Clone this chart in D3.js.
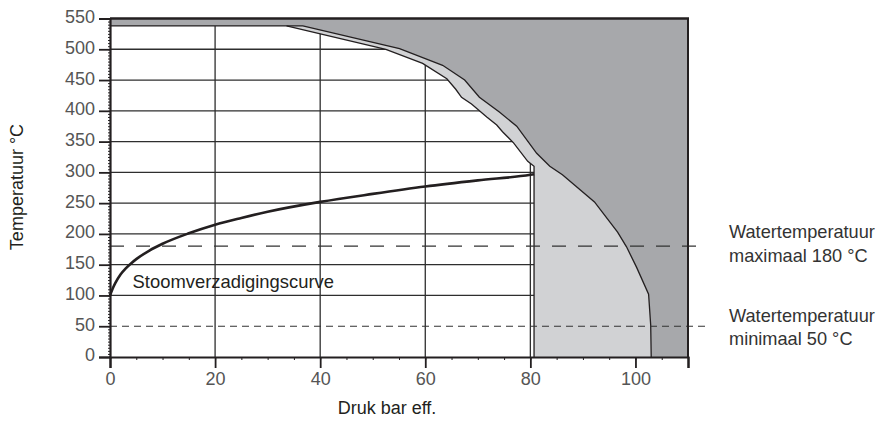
<!DOCTYPE html>
<html>
<head>
<meta charset="utf-8">
<script src="https://cdn.jsdelivr.net/npm/d3@7"></script>
<style>
  html, body { margin: 0; padding: 0; background: #fff; }
  svg text { font-family: "Liberation Sans", Arial, sans-serif; }
</style>
</head>
<body>
<svg id="chart" width="884" height="424"></svg>
<script>
// Axis ticks
const pressureTicks = [0, 20, 40, 60, 80, 100];
const tempTicks = [0, 50, 100, 150, 200, 250, 300, 350, 400, 450, 500, 550];
const gridPressure = [20, 40, 60, 80];
const gridTemp = [100, 150, 200, 250, 300, 350, 400, 450, 500];

// Steam saturation curve (pressure bar eff. -> temperature °C)
const satPressure = [0, 0.5, 1, 2, 3, 4, 5, 7.5, 10, 15, 20, 25, 30, 40, 50, 60, 70, 80, 80.7];
const satTemp     = [100, 111, 120, 134, 144, 152, 159, 173, 184, 201, 215, 226, 236, 252, 265, 277, 287, 296, 297];

// Inner boundary of the light grey zone
const innerPressure = [33.6, 52.5, 59.5, 64.1, 65.8, 66.9, 68.8, 71.7, 73.6, 74.7, 76.8, 79.5, 80.7, 80.7];
const innerTemp     = [538, 500, 477, 452, 435, 422, 411, 390, 377, 366, 348, 318, 310, 0];

// Outer boundary (edge of the dark grey zone)
const outerPressure = [36.7, 55.1, 63.3, 67.5, 70.3, 74.1, 77.4, 81.2, 83.7, 86.1, 92.2, 96.6, 98.3, 100.2, 102.5, 102.9, 103];
const outerTemp     = [538, 501, 474, 450, 422, 398, 375, 331, 310, 296, 252, 203, 179, 146, 102, 52, 0];

// Top band of the dark zone and plot limits
const bandTemp = 538;
const maxPressure = 110;
const maxTemp = 550;

// Water temperature limits
const limitTemps = [180, 50];
const limitLabels = [["Watertemperatuur", "maximaal 180 °C"], ["Watertemperatuur", "minimaal 50 °C"]];
const limitDash = ["14,12", "7,5"];
const limitEnd = 113.5;

const svg = d3.select("#chart");
const x = d3.scaleLinear().domain([0, maxPressure]).range([110, 688]);
const y = d3.scaleLinear().domain([0, maxTemp]).range([357, 18.5]);

const ink = "#231f20";
const lightGrey = "#d1d2d4";
const darkGrey = "#a7a8ab";

// Grid
const grid = svg.append("g");
grid.selectAll("line.h").data(gridTemp).join("line")
  .attr("x1", x(0)).attr("x2", x(maxPressure))
  .attr("y1", d => y(d)).attr("y2", d => y(d))
  .attr("stroke", "#2e2e2e").attr("stroke-width", 1.3);
grid.selectAll("line.v").data(gridPressure).join("line")
  .attr("x1", d => x(d)).attr("x2", d => x(d))
  .attr("y1", y(0)).attr("y2", y(maxTemp))
  .attr("stroke", "#2e2e2e").attr("stroke-width", 1.3);

const inner = innerPressure.map((p, i) => [p, innerTemp[i]]);
const outer = outerPressure.map((p, i) => [p, outerTemp[i]]);
const lineGen = d3.line().x(d => x(d[0])).y(d => y(d[1]));

// Light grey zone: between inner and outer boundaries
const lightPoly = inner.concat(outer.slice().reverse());
svg.append("path").attr("d", lineGen(lightPoly) + "Z").attr("fill", lightGrey);

// Dark grey zone: above the outer boundary plus the top band
const darkPoly = [[0, maxTemp], [0, bandTemp]].concat(outer)
  .concat([[maxPressure, 0], [maxPressure, maxTemp]]);
svg.append("path").attr("d", lineGen(darkPoly) + "Z").attr("fill", darkGrey);

// Boundary strokes
svg.append("path").attr("d", lineGen([[0, bandTemp]].concat(outer)))
  .attr("fill", "none").attr("stroke", ink).attr("stroke-width", 1.3);
svg.append("path").attr("d", lineGen(inner))
  .attr("fill", "none").attr("stroke", ink).attr("stroke-width", 1.3);

// Saturation curve
const sat = satPressure.map((p, i) => [p, satTemp[i]]);
svg.append("path")
  .attr("d", d3.line().x(d => x(d[0])).y(d => y(d[1])).curve(d3.curveMonotoneX)(sat))
  .attr("fill", "none").attr("stroke", ink).attr("stroke-width", 2.6);

// Water temperature limits
svg.selectAll("line.limit").data(limitTemps).join("line")
  .attr("x1", x(0)).attr("x2", x(limitEnd))
  .attr("y1", d => y(d)).attr("y2", d => y(d))
  .attr("stroke", "#333").attr("stroke-width", 1.2)
  .attr("stroke-dasharray", (d, i) => limitDash[i]);

// Frame
svg.append("line").attr("x1", x(0)).attr("x2", x(maxPressure) + 1)
  .attr("y1", y(maxTemp)).attr("y2", y(maxTemp))
  .attr("stroke", ink).attr("stroke-width", 2.4);
svg.append("line").attr("x1", x(maxPressure)).attr("x2", x(maxPressure))
  .attr("y1", y(maxTemp)).attr("y2", y(0))
  .attr("stroke", ink).attr("stroke-width", 2);

// X axis
const xAxis = svg.append("g").attr("transform", `translate(0,${y(0)})`);
xAxis.call(d3.axisBottom(x).tickValues(d3.range(0, maxPressure + 1, 5)).tickSize(3).tickFormat(""))
  .call(g => g.select(".domain").remove())
  .call(g => g.selectAll("line").attr("stroke", ink).attr("stroke-width", 1));
xAxis.append("g")
  .call(d3.axisBottom(x).tickValues(pressureTicks.concat([maxPressure])).tickSize(11)
    .tickFormat(d => pressureTicks.includes(d) ? d : ""))
  .call(g => g.select(".domain").attr("stroke", ink).attr("stroke-width", 2.2))
  .call(g => g.selectAll("line").attr("stroke", ink).attr("stroke-width", 1.8))
  .call(g => g.selectAll("text").attr("font-size", 18).attr("fill", "#555")
    .attr("y", 15).attr("dy", "0.71em")
    .style("font-family", "'Liberation Sans', Arial, sans-serif"));

// Y axis
const yAxis = svg.append("g").attr("transform", `translate(${x(0)},0)`);
yAxis.call(d3.axisLeft(y).tickValues(d3.range(0, maxTemp + 1, 5)).tickSize(2).tickFormat(""))
  .call(g => g.select(".domain").remove())
  .call(g => g.selectAll("line").attr("stroke", ink).attr("stroke-width", 1));
yAxis.append("g")
  .call(d3.axisLeft(y).tickValues(tempTicks).tickSize(11))
  .call(g => g.select(".domain").attr("stroke", ink).attr("stroke-width", 2.2))
  .call(g => g.selectAll("line").attr("stroke", ink).attr("stroke-width", 1.8))
  .call(g => g.selectAll("text").attr("font-size", 18).attr("fill", "#555")
    .attr("x", -15).attr("dy", "0.22em")
    .style("font-family", "'Liberation Sans', Arial, sans-serif"));

// Axis titles
svg.append("text").attr("x", 387).attr("y", 414).attr("text-anchor", "middle")
  .attr("font-size", 18).attr("fill", ink).text("Druk bar eff.");
svg.append("text").attr("transform", "translate(23,187) rotate(-90)")
  .attr("text-anchor", "middle").attr("font-size", 18).attr("fill", ink)
  .text("Temperatuur °C");

// Curve label
svg.append("text").attr("x", x(4.3)).attr("y", y(112))
  .attr("font-size", 18.4).attr("fill", ink).text("Stoomverzadigingscurve");

// Limit labels (first line sits just above its dashed line)
const labelLift = [8, 4.5];
limitTemps.forEach((t, i) => {
  const g = svg.append("text").attr("x", 729).attr("y", y(t) - labelLift[i])
    .attr("font-size", 18.2).attr("fill", "#333");
  g.append("tspan").attr("x", 729).text(limitLabels[i][0]);
  g.append("tspan").attr("x", 729).attr("dy", 23.5).text(limitLabels[i][1]);
});
</script>
</body>
</html>
